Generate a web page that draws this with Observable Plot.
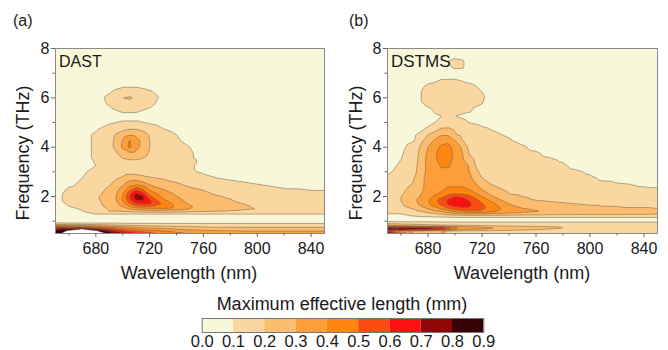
<!DOCTYPE html>
<html><head><meta charset="utf-8">
<script src="https://cdn.jsdelivr.net/npm/d3@7"></script>
<script src="https://cdn.jsdelivr.net/npm/@observablehq/plot@0.6"></script>
<style>
html,body{margin:0;padding:0;background:#fff;}
#root{position:relative;width:668px;height:350px;overflow:hidden;font-family:"Liberation Sans",Arial,sans-serif;}
#root > svg{position:absolute;}
</style></head><body><div id="root"></div>
<script>
// ---- data (values in hundredths of mm) ----
const wavelengths = [650,660,670,680,690,695,700,705,710,715,720,730,740,750,760,770,780,790,800,810,820,830,840,850];
const frequencies = [8,7.75,7.5,7.25,7,6.75,6.5,6.25,6,5.75,5.5,5.25,5,4.75,4.5,4.25,4,3.75,3.5,3.25,3,2.75,2.5,2.25,2.1,2,1.9,1.8,1.7,1.6,1.5,1.4,1.3,1.2,1.1,1,0.95,0.9,0.85,0.8,0.75,0.7,0.65,0.6,0.55,0.5];
const dastRows = [
"3 3 3 3 3 3 3 3 3 3 3 3 3 3 3 3 3 3 3 3 3 3 3 3",
"3 3 3 3 3 3 3 3 3 3 3 3 3 3 3 3 3 3 3 3 3 3 3 3",
"3 3 3 3 3 3 3 3 3 3 3 3 3 3 3 3 3 3 3 3 3 3 3 3",
"3 3 3 3 3 3 3 3 3 3 3 3 3 3 3 3 3 3 3 3 3 3 3 3",
"3 3 3 3 3 3 3 3 3 3 3 3 3 3 3 3 3 3 3 3 3 3 3 3",
"3 3 3 3 4 5 5 5 5 5 4 3 3 3 3 3 3 3 3 3 3 3 3 3",
"3 3 3 4 6 7 8 8 8 7 6 4 3 3 3 3 3 3 3 3 3 3 3 3",
"3 3 3 5 9 12 15 15 15 13 11 6 4 3 3 3 3 3 3 3 3 3 3 3",
"3 3 4 7 12 16 20 21 19 16 14 8 5 3 3 3 3 3 3 3 3 3 3 3",
"3 3 4 6 11 14 16 17 16 14 12 7 4 3 3 3 3 3 3 3 3 3 3 3",
"3 3 3 5 8 10 12 12 12 10 9 5 3 3 3 3 3 3 3 3 3 3 3 3",
"3 3 3 4 6 7 7 7 7 7 6 4 3 3 3 3 3 3 3 3 3 3 3 3",
"3 4 5 7 9 10 11 11 11 10 9 7 5 4 3 3 3 3 3 3 3 3 3 3",
"3 4 6 9 13 15 17 19 19 17 14 10 7 5 4 3 3 3 3 3 3 3 3 3",
"3 5 8 11 16 21 26 29 28 24 19 14 10 7 5 4 3 3 3 3 3 3 3 3",
"3 5 8 11 17 22 31 41 34 27 20 15 11 8 5 4 3 3 3 3 3 3 3 3",
"3 5 8 11 17 22 32 42 33 26 20 15 12 10 6 4 3 3 3 3 3 3 3 3",
"3 5 8 11 15 19 25 28 27 23 19 15 12 11 7 5 4 3 3 3 3 3 3 3",
"3 5 7 11 14 16 19 20 20 19 17 15 13 11 9 6 4 3 3 3 3 3 3 3",
"3 5 7 10 13 15 17 18 18 17 16 14 12 11 8 6 5 4 4 3 3 3 3 3",
"4 6 9 12 13 15 16 17 16 15 14 13 12 11 9 7 6 5 5 4 4 4 3 3",
"5 7 10 13 15 19 21 25 25 23 21 19 17 15 12 10 9 8 7 6 6 5 5 4",
"6 9 11 15 19 23 28 35 38 34 29 25 21 18 16 13 12 11 10 9 8 7 7 6",
"7 11 12 16 22 27 35 50 61 52 40 31 26 22 20 17 15 14 13 12 11 11 10 10",
"8 12 13 17 24 29 39 57 72 64 47 35 29 24 22 19 17 15 14 13 12 12 12 11",
"8 12 13 18 25 30 41 60 76 71 53 38 30 25 23 21 18 16 15 14 13 13 12 12",
"8 12 13 18 26 30 41 59 73 72 59 40 32 26 24 22 20 17 16 15 14 13 13 12",
"8 12 13 17 25 29 39 55 67 68 63 44 34 27 25 23 21 18 17 16 15 14 13 13",
"7 11 12 17 24 27 35 48 58 60 60 48 36 29 26 24 22 20 18 17 16 15 14 13",
"6 10 12 16 23 25 31 40 47 49 50 50 38 31 27 25 23 21 19 17 16 15 14 14",
"5 8 11 15 21 23 26 31 34 36 37 38 35 30 28 25 23 21 20 18 17 16 15 14",
"4 6 10 13 20 20 21 22 23 24 25 25 24 22 21 20 19 18 17 16 15 14 14 13",
"3 4 6 11 11 11 11 11 11 11 11 11 11 11 11 11 11 11 11 11 11 11 11 11",
"3 3 3 4 4 4 4 4 4 4 4 4 4 4 4 4 4 4 4 4 4 4 4 4",
"3 3 3 3 3 3 3 3 3 3 3 3 3 3 3 3 3 3 3 3 3 3 3 3",
"4 4 4 4 4 4 4 4 4 4 4 4 4 4 4 4 4 4 4 4 4 4 4 4",
"8 7 7 7 7 7 7 6 6 6 6 6 6 6 6 6 6 6 6 6 6 6 6 6",
"14 13 13 12 12 12 11 11 11 11 11 11 11 11 11 11 11 11 11 11 11 11 11 11",
"30 26 24 22 20 19 18 17 17 16 16 15 15 14 14 14 14 14 14 14 14 14 14 14",
"48 42 38 33 29 27 25 24 23 22 21 20 19 18 18 17 17 17 17 17 17 17 17 17",
"62 58 55 48 40 37 34 32 30 28 27 25 23 22 21 20 20 20 20 20 20 20 20 20",
"72 78 88 70 55 48 44 40 37 35 33 30 28 26 25 24 24 24 23 23 23 23 23 23",
"80 88 95 86 66 57 52 47 44 41 39 35 32 30 29 28 27 27 27 27 27 27 27 27",
"84 92 97 93 76 66 60 55 51 47 45 40 36 34 32 31 31 30 30 30 30 30 30 30",
"86 93 98 96 83 74 68 62 57 53 50 44 40 37 35 34 34 33 33 33 33 33 33 33",
"87 94 99 97 87 80 74 68 62 58 54 47 43 40 38 37 36 36 36 36 36 36 36 36"
];
const dstmsRows = [
"3 3 3 3 3 3 3 3 3 3 3 3 3 3 3 3 3 3 3 3 3 3 3 3",
"3 3 3 3 4 5 6 6 5 4 3 3 3 3 3 3 3 3 3 3 3 3 3 3",
"3 3 3 4 7 10 12 11 8 5 4 3 3 3 3 3 3 3 3 3 3 3 3 3",
"3 3 3 4 7 9 11 11 8 5 4 3 3 3 3 3 3 3 3 3 3 3 3 3",
"3 3 3 5 6 7 7 7 6 5 4 3 3 3 3 3 3 3 3 3 3 3 3 3",
"3 3 4 7 10 10 10 9 7 6 5 4 3 3 3 3 3 3 3 3 3 3 3 3",
"3 3 6 11 13 14 14 13 12 10 8 5 4 3 3 3 3 3 3 3 3 3 3 3",
"3 4 8 12 14 15 15 14 13 12 10 6 4 3 3 3 3 3 3 3 3 3 3 3",
"3 4 8 12 14 15 15 14 13 12 11 6 4 3 3 3 3 3 3 3 3 3 3 3",
"3 4 8 11 13 14 14 13 12 11 10 6 4 3 3 3 3 3 3 3 3 3 3 3",
"3 4 7 9 12 13 13 12 11 9 8 6 4 3 3 3 3 3 3 3 3 3 3 3",
"3 4 6 8 10 12 10 9 8 8 7 6 5 4 3 3 3 3 3 3 3 3 3 3",
"3 4 6 8 12 14 14 12 10 9 8 7 5 4 3 3 3 3 3 3 3 3 3 3",
"3 5 7 11 21 21 18 16 14 13 11 9 7 5 4 3 3 3 3 3 3 3 3 3",
"4 6 9 20 29 29 21 18 16 15 13 11 9 7 5 4 3 3 3 3 3 3 3 3",
"4 6 10 26 37 38 31 21 17 16 14 12 11 8 6 4 3 3 3 3 3 3 3 3",
"5 8 14 30 42 43 36 29 19 17 15 13 12 11 8 5 4 3 3 3 3 3 3 3",
"6 9 15 32 45 45 37 31 20 18 16 14 13 12 11 8 5 4 3 3 3 3 3 3",
"7 10 16 33 44 44 37 32 24 19 17 15 14 13 12 11 9 6 4 3 3 3 3 3",
"8 11 17 33 41 41 35 33 30 20 18 16 15 14 13 12 11 8 6 4 3 3 3 3",
"9 12 18 33 38 38 37 35 31 21 19 17 16 15 14 13 12 11 9 6 4 3 3 3",
"11 14 20 34 37 37 37 36 33 27 20 18 17 16 15 14 13 12 11 9 6 4 3 3",
"12 16 21 34 37 38 38 38 36 31 22 19 18 17 16 15 14 13 12 11 11 10 8 6",
"13 18 24 34 39 42 43 43 41 37 31 22 19 18 17 16 15 14 14 13 13 13 13 13",
"14 19 25 35 42 48 50 50 47 42 35 25 20 19 18 17 16 15 15 14 14 14 14 14",
"15 20 26 36 46 54 60 58 53 47 40 29 22 20 19 18 17 16 16 15 15 15 15 15",
"15 20 28 38 53 60 64 63 58 51 44 32 24 21 19 18 17 17 16 16 16 16 16 16",
"15 20 28 39 55 62 66 65 61 55 48 36 27 23 21 20 19 18 18 17 17 17 17 17",
"14 19 27 38 53 61 65 65 62 57 51 40 30 25 23 22 21 20 19 19 18 18 18 18",
"13 18 25 35 48 56 61 62 61 57 52 42 33 27 24 23 22 21 21 20 20 19 19 19",
"12 15 21 30 41 48 54 58 59 56 52 43 36 31 28 26 24 23 22 22 21 21 21 20",
"11 12 17 24 32 37 42 46 48 48 47 41 36 33 31 28 26 25 24 24 23 23 23 22",
"10 10 13 17 22 25 28 30 31 31 31 29 27 26 25 24 23 23 22 22 22 22 22 21",
"8 9 10 11 12 13 14 14 14 14 14 14 14 14 14 14 14 14 14 14 14 14 14 14",
"6 6 6 6 6 6 6 6 6 6 6 6 6 6 6 6 6 6 6 6 6 6 6 6",
"8 8 8 8 8 8 8 8 8 8 8 8 8 8 8 8 8 8 8 8 8 8 8 8",
"13 12 12 12 11 11 11 11 11 11 11 11 11 11 11 11 11 11 11 11 11 11 11 11",
"20 18 17 16 15 15 15 15 15 14 14 14 14 13 13 13 13 13 13 13 13 13 13 13",
"28 24 22 20 19 18 18 17 17 17 16 16 15 15 14 14 14 13 13 13 13 13 13 13",
"40 35 32 30 28 27 26 25 24 23 22 21 20 19 18 17 16 15 15 14 14 14 14 14",
"75 72 70 68 60 48 40 36 34 33 32 30 28 26 25 23 21 19 16 15 15 15 15 15",
"85 82 80 78 72 60 46 38 35 33 32 29 27 25 23 21 19 17 15 14 14 14 14 14",
"80 75 70 62 50 42 36 32 30 28 27 25 23 21 20 18 17 16 15 14 14 14 14 14",
"60 35 26 22 20 19 19 18 18 18 17 17 16 16 15 15 14 14 14 14 14 14 14 14",
"80 40 26 22 20 19 19 18 18 18 17 17 16 16 15 15 14 14 14 14 14 14 14 14",
"88 50 28 23 21 20 19 19 18 18 17 17 16 16 15 15 14 14 14 14 14 14 14 14"
];
const levels = [0, 0.1, 0.2, 0.3, 0.4, 0.5, 0.6, 0.7, 0.8, 0.9];
const levelColors = ["#f8f7d9","#fad7a0","#fdbd6e","#fd9e3a","#fe8610","#fb4c10","#fc1010","#8e0606","#350303","#ffffff"];
const xTicks = [680, 720, 760, 800, 840];
const xMinor = [660, 700, 740, 780, 820];
const yTicks = [2, 4, 6, 8];
const yMinor = [1, 3, 5, 7];
const legendTicks = [0, 0.1, 0.2, 0.3, 0.4, 0.5, 0.6, 0.7, 0.8, 0.9];

function toPoints(rows) {
  return rows.flatMap((s, i) => s.trim().split(/\s+/).map((v, j) => ({wl: wavelengths[j], f: frequencies[i], L: +v / 100})));
}

const FONT = '"Liberation Sans", Arial, sans-serif';
const root = document.getElementById("root");

function panel(points, left, marginLeft, marginRight) {
  const chart = Plot.plot({
    width: 334, height: 290,
    marginLeft, marginRight, marginTop: 48, marginBottom: 57,
    x: {domain: [650, 850]},
    y: {domain: [0.5, 8]},
    color: {type: "threshold", domain: levels.slice(1), range: levelColors},
    style: {fontFamily: FONT, background: "transparent", color: "#1a1a1a"},
    marks: [
      Plot.contour(points, {x: "wl", y: "f", fill: "L", thresholds: levels, interpolate: "barycentric",
        pixelSize: 1, stroke: "#6d5f4d", strokeWidth: 0.6, strokeOpacity: 0.85}),
      Plot.frame({stroke: "#8a8a8a"}),
      Plot.axisX(xTicks, {tickSize: 4, tickPadding: 5, fontSize: 16, label: null, stroke: "#666", fill: "#1a1a1a"}),
      Plot.axisX(xMinor, {tickSize: 2.5, tickFormat: () => "", label: null, stroke: "#666"}),
      Plot.axisY(yTicks, {tickSize: 4, tickPadding: 2, fontSize: 16, label: null, stroke: "#666", fill: "#1a1a1a"}),
      Plot.axisY(yMinor, {tickSize: 2.5, tickFormat: () => "", label: null, stroke: "#666"})
    ]
  });
  chart.style.left = left + "px";
  chart.style.top = "0px";
  root.appendChild(chart);
}

panel(toPoints(dastRows), 0, 55, 10);
panel(toPoints(dstmsRows), 334, 53, 11);

// colour bar
const bands = levels.slice(0, 9).map((a, i) => ({a, b: levels[i + 1], c: levelColors[i]}));
const bar = Plot.plot({
  width: 668, height: 37,
  marginLeft: 201.7, marginRight: 184.7, marginTop: 5, marginBottom: 18,
  x: {domain: [0, 0.9]},
  y: {domain: [0, 1], axis: null},
  color: {type: "identity"},
  style: {fontFamily: FONT, background: "transparent", color: "#1a1a1a"},
  marks: [
    Plot.rect(bands, {x1: "a", x2: "b", y1: 0, y2: 1, fill: "c"}),
    Plot.frame({stroke: "#777"}),
    Plot.axisX(legendTicks, {tickSize: 0, tickPadding: 3, fontSize: 16.5, tickFormat: d3.format(".1f"), label: null})
  ]
});
bar.style.left = "0px";
bar.style.top = "313px";
root.appendChild(bar);

// titles / annotations
const svg = d3.select(root).append("svg")
  .attr("width", 668).attr("height", 350)
  .style("left", "0px").style("top", "0px")
  .style("font-family", FONT).style("pointer-events", "none");
const t = (x, y, s, size, anchor = "start", rot = false) => {
  const e = svg.append("text").attr("font-size", size).attr("fill", "#1a1a1a").attr("text-anchor", anchor).text(s);
  if (rot) e.attr("transform", `translate(${x},${y}) rotate(-90)`);
  else e.attr("x", x).attr("y", y);
};
t(13, 26, "(a)", 16);
t(349, 26, "(b)", 16);
t(59, 67, "DAST", 16);
t(391, 66.5, "DSTMS", 17);
t(28.5, 153, "Frequency (THz)", 18, "middle", true);
t(361.5, 153, "Frequency (THz)", 18, "middle", true);
t(189, 279, "Wavelength (nm)", 18, "middle");
t(522, 279, "Wavelength (nm)", 18, "middle");
t(342, 309.5, "Maximum effective length (mm)", 18, "middle");
</script></body></html>
